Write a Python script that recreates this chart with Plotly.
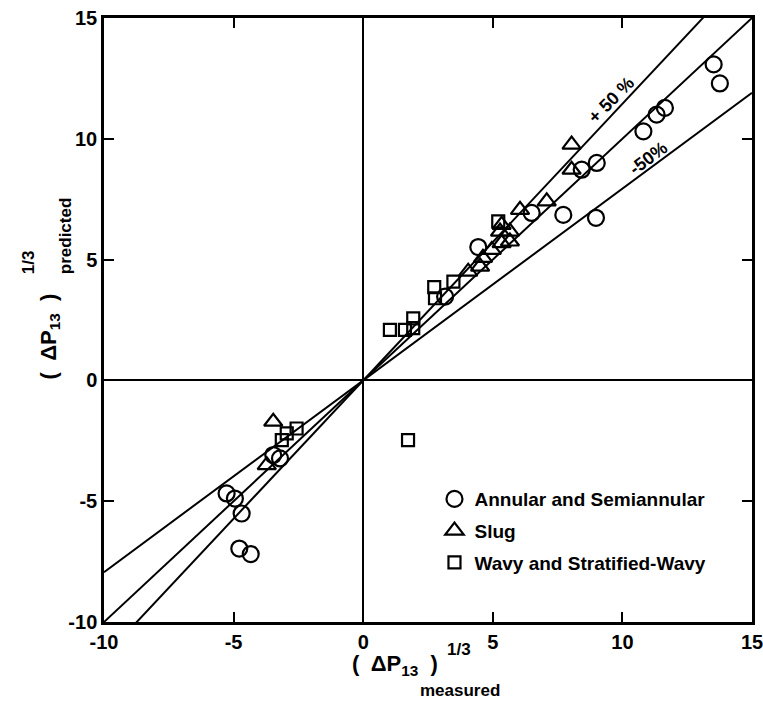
import plotly.graph_objects as go

# Annular and Semiannular (circles)
annular_x = [13.52, 13.76, 11.64, 11.32, 10.81, 9.01, 8.43, 7.72, 8.98, 6.50, 4.44, 3.16,
             -3.47, -3.21, -5.27, -4.95, -4.69, -4.78, -4.34]
annular_y = [13.08, 12.29, 11.28, 11.00, 10.31, 9.00, 8.72, 6.85, 6.73, 6.93, 5.52, 3.47,
             -3.09, -3.23, -4.68, -4.89, -5.51, -6.96, -7.19]

# Slug (triangles)
slug_x = [8.04, 8.04, 7.08, 6.05, 5.34, 4.05, 4.51, 4.62, 4.96, 5.34, 5.66, 5.28, 5.66,
          -3.47, -3.72]
slug_y = [9.76, 8.72, 7.41, 7.06, 6.44, 4.50, 4.71, 5.07, 5.40, 5.68, 5.75, 6.16, 6.16,
          -1.71, -3.51]

# Wavy and Stratified-Wavy (squares)
wavy_x = [1.03, 1.61, 1.93, 1.93, 2.74, 2.77, 3.48, 5.21, 1.73, -2.57, -2.95, -3.14]
wavy_y = [2.09, 2.09, 2.57, 2.16, 3.86, 3.40, 4.09, 6.58, -2.47, -1.99, -2.19, -2.47]

# Reference lines: perfect agreement and +/-50 % on the cube-root scale
line_x = [-10, 15]
ratios = {"+50%": 1.5 ** (1 / 3), "exact": 1.0, "-50%": 0.5 ** (1 / 3)}

tick_vals = [-10, -5, 0, 5, 10, 15]
tick_text = ["-10", "-5", "0", "5", "10", "15"]

FONT = "Liberation Sans"

fig = go.Figure()

for name, r in ratios.items():
    fig.add_trace(go.Scatter(
        x=line_x, y=[r * v for v in line_x], mode="lines",
        line=dict(color="black", width=2), showlegend=False, hoverinfo="skip"))

mk_line = dict(color="black", width=2.2)
fig.add_trace(go.Scatter(
    x=annular_x, y=annular_y, mode="markers", name="Annular and Semiannular",
    legendgroup="a",
    marker=dict(symbol="circle-open", size=16, color="black", line=mk_line)))
fig.add_trace(go.Scatter(
    x=slug_x, y=slug_y, mode="markers", name="Slug", legendgroup="b",
    marker=dict(symbol="triangle-up-open", size=16, color="black", line=mk_line)))
fig.add_trace(go.Scatter(
    x=wavy_x, y=wavy_y, mode="markers", name="Wavy and Stratified-Wavy",
    legendgroup="c",
    marker=dict(symbol="square-open", size=12, color="black", line=mk_line)))

axis_common = dict(
    showgrid=False, zeroline=True, zerolinecolor="black", zerolinewidth=2,
    showline=True, linecolor="black", linewidth=2.5, mirror="ticks",
    ticks="inside", ticklen=10, tickwidth=2, tickcolor="black",
    tickvals=tick_vals, ticktext=tick_text, automargin=False,
    ticklabeloverflow="allow",
    tickfont=dict(family=FONT, size=20, color="black", weight="bold"),
)
fig.update_xaxes(range=[-10, 15], **axis_common)
fig.update_yaxes(range=[-10, 15], **axis_common)

big_font = dict(family=FONT, size=22, color="black", weight="bold")
small_font = dict(family=FONT, size=17, color="black", weight="bold")
lbl_font = dict(family=FONT, size=18, color="black", weight="bold")
P = dict(xref="paper", yref="paper", showarrow=False,
         xanchor="center", yanchor="middle")
annotations = [
    # x title
    dict(text="(  ΔP<sub>13</sub>  )", x=0.449, y=-0.072, font=big_font, **P),
    dict(text="1/3", x=0.548, y=-0.046, font=small_font, **P),
    dict(text="measured", x=0.55, y=-0.113, font=small_font, **P),
    # y title
    dict(text="(  ΔP<sub>13</sub>  )", x=-0.084, y=0.472, textangle=-90,
         font=big_font, **P),
    dict(text="1/3", x=-0.117, y=0.596, textangle=-90, font=small_font, **P),
    dict(text="predicted", x=-0.059, y=0.64, textangle=-90, font=small_font, **P),
    # line labels
    dict(text="+ 50 %", x=9.57, y=11.6, xref="x", yref="y", textangle=-45,
         showarrow=False, font=lbl_font),
    dict(text="-50%", x=11.0, y=9.22, xref="x", yref="y", textangle=-37,
         showarrow=False, font=lbl_font),
]

fig.update_layout(
    width=763, height=704,
    margin=dict(l=104, r=11, t=18, b=82),
    paper_bgcolor="white", plot_bgcolor="white",
    annotations=annotations,
    showlegend=True,
    legend=dict(x=0.51, y=0.235, xanchor="left", yanchor="top",
                bgcolor="rgba(0,0,0,0)", tracegroupgap=4,
                font=dict(family=FONT, size=19, color="black", weight="bold")),
)

fig.write_html("out.html")
